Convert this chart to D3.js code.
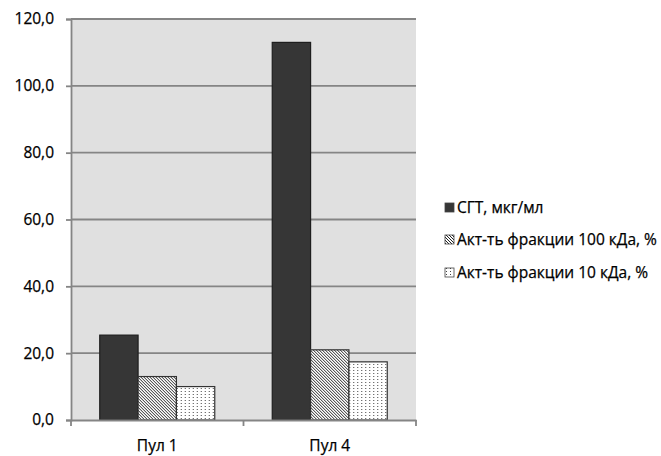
<!DOCTYPE html>
<html>
<head>
<meta charset="utf-8">
<script src="https://cdn.jsdelivr.net/npm/d3@7/dist/d3.min.js"></script>
<style>
  html, body { margin: 0; padding: 0; background: #fff; }
  svg { display: block; font-family: "Open Sans", "DejaVu Sans", sans-serif; }
  svg text { stroke: #000; stroke-width: 0.25px; }
</style>
</head>
<body>
<svg id="chart" width="661" height="456"></svg>
<script>
// Pools on the category axis
const categories = ["Пул 1", "Пул 4"];
// Series names shown in the legend
const seriesNames = ["СГТ, мкг/мл", "Акт-ть фракции 100 кДа, %", "Акт-ть фракции 10 кДа, %"];
// Values for each series, per pool
const sgt = [25.4, 113.0];
const act100 = [13.0, 21.0];
const act10 = [10.0, 17.4];
// Y axis ticks
const yTicks = [0, 20, 40, 60, 80, 100, 120];

const seriesValues = [sgt, act100, act10];

const svg = d3.select("#chart");
const defs = svg.append("defs");

// Diagonal hatch fill
const hatch = defs.append("pattern")
  .attr("id", "hatch").attr("patternUnits", "userSpaceOnUse")
  .attr("width", 3).attr("height", 3);
hatch.append("rect").attr("width", 3).attr("height", 3).attr("fill", "#fff");
hatch.append("path").attr("d", "M-1,-1 L4,4 M-1,2 L1,4 M2,-1 L4,1")
  .attr("stroke", "#222").attr("stroke-width", 1);

// Dotted fill
const dots = defs.append("pattern")
  .attr("id", "dots").attr("patternUnits", "userSpaceOnUse")
  .attr("width", 4).attr("height", 3);
dots.append("rect").attr("width", 4).attr("height", 3).attr("fill", "#fff");
dots.append("rect").attr("x", 1).attr("y", 1).attr("width", 1).attr("height", 1).attr("fill", "#444");

const fills = ["#363636", "url(#hatch)", "url(#dots)"];

const plot = { left: 71, right: 416, top: 19, bottom: 420 };

const x0 = d3.scaleBand().domain(categories).range([plot.left, plot.right]).paddingInner(0).paddingOuter(0);
const groupWidth = x0.bandwidth() * 3 / 4.5;
const x1 = d3.scaleBand().domain(d3.range(seriesNames.length))
  .range([0, groupWidth]).padding(0);
const y = d3.scaleLinear().domain([0, 120]).range([plot.bottom, plot.top]);

// Plot area background
svg.append("rect")
  .attr("x", plot.left).attr("y", plot.top)
  .attr("width", plot.right - plot.left).attr("height", plot.bottom - plot.top)
  .attr("fill", "#e0e0e0");

// Horizontal gridlines
svg.append("g").selectAll("line").data(yTicks.filter(d => d > 0)).join("line")
  .attr("x1", plot.left).attr("x2", plot.right)
  .attr("y1", d => y(d)).attr("y2", d => y(d))
  .attr("stroke", "#858585").attr("stroke-width", 1.8);

// Bars
const groups = svg.append("g").selectAll("g").data(categories).join("g")
  .attr("transform", (c) => `translate(${x0(c) + (x0.bandwidth() - groupWidth) / 2},0)`);

groups.selectAll("rect").data((c, ci) => seriesValues.map((vals, si) => ({ si, v: vals[ci] })))
  .join("rect")
  .attr("x", d => x1(d.si))
  .attr("y", d => y(d.v))
  .attr("width", x1.bandwidth())
  .attr("height", d => y(0) - y(d.v))
  .attr("fill", d => fills[d.si])
  .attr("stroke", d => d.si === 0 ? "#1e1e1e" : "#333")
  .attr("stroke-width", 1.2);

// Y axis
const yAxis = d3.axisLeft(y).tickValues(yTicks).tickSize(5).tickPadding(12)
  .tickFormat(d => d3.format(".1f")(d).replace(".", ","));
const gy = svg.append("g").attr("transform", `translate(${plot.left},0)`).call(yAxis);
gy.select(".domain").attr("stroke", "#858585").attr("stroke-width", 1.8);
gy.selectAll(".tick line").attr("stroke", "#858585").attr("stroke-width", 1.8);
gy.selectAll(".tick text").attr("font-size", 15.5).attr("fill", "#000")
  .attr("font-family", "'Open Sans', sans-serif");

// X axis
const xAxis = d3.axisBottom(x0).tickSize(0).tickPadding(20);
const gx = svg.append("g").attr("transform", `translate(0,${plot.bottom})`).call(xAxis);
gx.select(".domain").attr("stroke", "#858585").attr("stroke-width", 1.8);
gx.selectAll(".tick text").attr("font-size", 15.5).attr("fill", "#000")
  .attr("font-family", "'Open Sans', sans-serif");
// Category boundary ticks
gx.append("g").selectAll("line")
  .data([plot.left, x0(categories[1]), plot.right]).join("line")
  .attr("x1", d => d).attr("x2", d => d).attr("y1", 0).attr("y2", 6)
  .attr("stroke", "#858585").attr("stroke-width", 1.8);

// Legend
const legendRows = [208, 240, 273];
const legend = svg.append("g").selectAll("g").data(seriesNames).join("g")
  .attr("transform", (d, i) => `translate(445,${legendRows[i]})`);
legend.append("rect")
  .attr("x", 0).attr("y", -5).attr("width", 9).attr("height", 9)
  .attr("fill", (d, i) => fills[i])
  .attr("stroke", "#444").attr("stroke-width", 0.8);
legend.append("text")
  .attr("x", 12).attr("y", 5)
  .attr("font-size", 15.5).attr("fill", "#000")
  .text(d => d);
</script>
</body>
</html>
